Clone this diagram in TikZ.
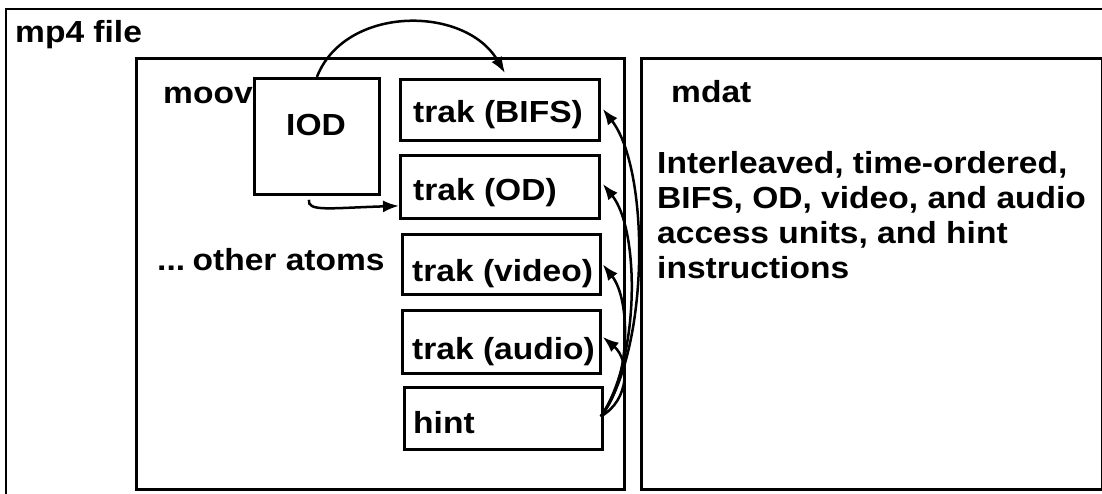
\documentclass[tikz,border=0pt]{standalone}
\usepackage{fontspec}
\setmainfont{Liberation Sans}[FakeStretch=1.1]
\usetikzlibrary{arrows.meta}
\begin{document}
\begin{tikzpicture}[x=1pt,y=-1pt,
  frame/.style={draw=black,line width=2.8pt},
  box/.style={draw=black,line width=2.8pt,inner sep=0pt,anchor=north west},
  lbl/.style={inner sep=0pt,anchor=base west,font=\bfseries\fontsize{30.5}{35}\selectfont},
  conn/.style={line width=2.5pt,-{Latex[length=16pt,width=12pt]}}
]
\useasboundingbox (0,0) rectangle (1102,493);
\clip (0,0) rectangle (1102,493);
% outer file box (extends beyond the page)
\draw[frame] (6,520) -- (6,9) -- (1130,9);
\node[lbl] (mp4) at (15,42) {mp4 file};
% moov and mdat boxes
\node[box,minimum width=488pt,minimum height=431pt] (moov) at (135,57) {};
\node[box,minimum width=461pt,minimum height=431pt] (mdat) at (640,57) {};
\node[lbl] (moovlbl) at (163,103) {moov};
\node[lbl] (mdatlbl) at (671,102) {mdat};
% IOD
\node[box,minimum width=125pt,minimum height=116pt] (iod) at (253,77) {};
\node[lbl,anchor=base] (iodlbl) at (316,135) {IOD};
% trak boxes
\node[box,minimum width=199pt,minimum height=61pt] (bifs) at (399,78) {};
\node[box,minimum width=199pt,minimum height=63pt] (od) at (399,154) {};
\node[box,minimum width=198pt,minimum height=60pt] (video) at (401,233) {};
\node[box,minimum width=198pt,minimum height=63pt] (audio) at (401,309) {};
\node[box,minimum width=198pt,minimum height=62pt] (hint) at (403,386) {};
\node[lbl] (bifslbl) at (413,122) {trak (BIFS)};
\node[lbl] (odlbl) at (413,200) {trak (OD)};
\node[lbl] (videolbl) at (412,281) {trak (video)};
\node[lbl] (audiolbl) at (412,359) {trak (audio)};
\node[lbl] (hintlbl) at (413,433) {hint};
\node[lbl] (other) at (157,270) {...\kern-5pt{} other atoms};
\node[lbl,anchor=north west,align=left] (desc) at (657,151)
  {Interleaved, time-ordered,\\BIFS, OD, video, and audio\\access units, and hint\\instructions};
% connectors
\draw[conn] (iod.north) .. controls (345,5) and (465,5) .. ([xshift=5pt,yshift=5pt]bifs.north);
\draw[conn] ([xshift=-8pt,yshift=-4pt]iod.south) .. controls (307,212) and (330,208) .. ([yshift=-19pt]od.west);
\coordinate (h0) at ([xshift=-3pt,yshift=2pt]hint.east);
\draw[conn] (h0) .. controls (650,350) and (650,170) .. ([xshift=2pt,yshift=1pt]bifs.east);
\draw[conn] (h0) .. controls (640,360) and (640,230) .. ([xshift=2pt,yshift=3pt]od.east);
\draw[conn] (h0) .. controls (631,380) and (631,300) .. ([xshift=1pt]video.east);
\draw[conn] (h0) .. controls (630,400) and (630,360) .. ([xshift=1pt,yshift=5pt]audio.east);
\end{tikzpicture}
\end{document}
